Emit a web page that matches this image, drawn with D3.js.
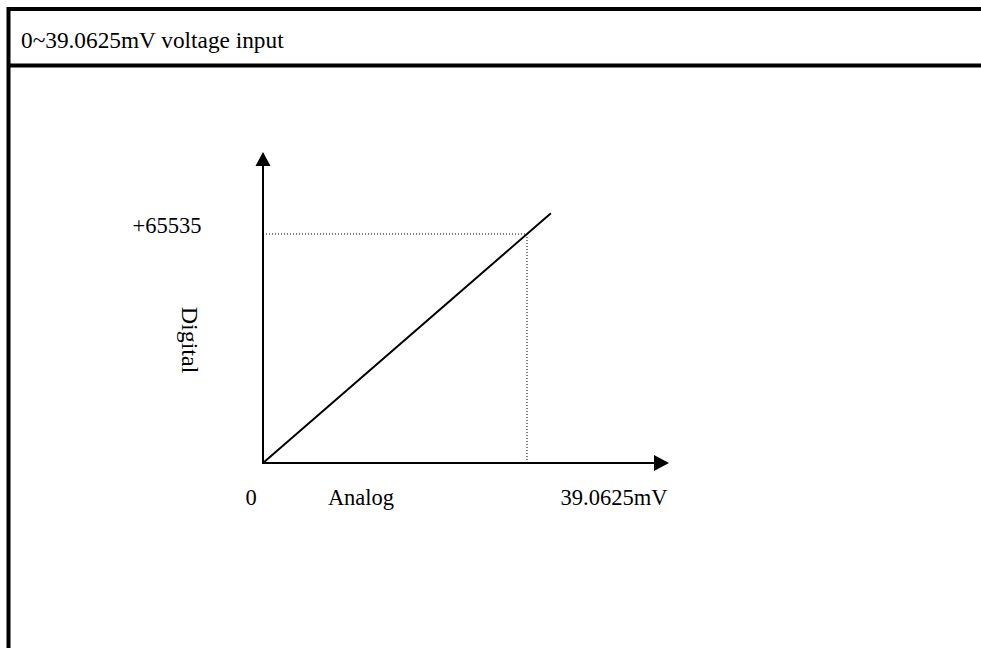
<!DOCTYPE html>
<html>
<head>
<meta charset="utf-8">
<script src="https://cdn.jsdelivr.net/npm/d3@7"></script>
<style>
  html, body { margin: 0; padding: 0; background: #fff; }
  svg { display: block; }
  text { font-family: "Times New Roman", "Liberation Serif", serif; fill: #000; }
</style>
</head>
<body>
<svg id="chart" width="981" height="648"></svg>
<script>
// Transfer characteristic: analog input (mV) -> digital code
const analogDomain = [0, 39.0625];
const digitalDomain = [0, 65535];
const fullScale = { mv: 39.0625, code: 65535 };
const transferLine = [
  { mv: 0, code: 0 },
  { mv: 42.6, code: 71470 }
];
const titleText = "0~39.0625mV voltage input";
const xLabels = ["0", "Analog", "39.0625mV"];
const yLabels = ["+65535"];
const yAxisTitle = "Digital";

const svg = d3.select("#chart");
const W = 981, H = 648;

// Scales
const x = d3.scaleLinear().domain(analogDomain).range([263, 527]);
const y = d3.scaleLinear().domain(digitalDomain).range([463, 234]);

// Table frame
svg.append("line").attr("x1", 7).attr("x2", W + 5).attr("y1", 9).attr("y2", 9)
  .attr("stroke", "#000").attr("stroke-width", 4);
svg.append("line").attr("x1", 8.5).attr("x2", 8.5).attr("y1", 7).attr("y2", H + 5)
  .attr("stroke", "#000").attr("stroke-width", 4);
svg.append("line").attr("x1", 7).attr("x2", W + 5).attr("y1", 65.5).attr("y2", 65.5)
  .attr("stroke", "#000").attr("stroke-width", 4);

svg.append("text").attr("x", 21).attr("y", 48)
  .attr("font-size", 23.3).text(titleText);

// Axes with arrowheads
const x0 = x(0), y0 = y(0);
const xEnd = 669, yEnd = 152;
svg.append("line").attr("x1", x0).attr("y1", y0).attr("x2", xEnd - 12).attr("y2", y0)
  .attr("stroke", "#000").attr("stroke-width", 2);
svg.append("path")
  .attr("d", `M${xEnd},${y0} L${xEnd - 15},${y0 - 8} L${xEnd - 15},${y0 + 8} Z`)
  .attr("fill", "#000");
svg.append("line").attr("x1", x0).attr("y1", y0 + 1).attr("x2", x0).attr("y2", yEnd + 12)
  .attr("stroke", "#000").attr("stroke-width", 2);
svg.append("path")
  .attr("d", `M${x0},${yEnd} L${x0 - 7.5},${yEnd + 14} L${x0 + 7.5},${yEnd + 14} Z`)
  .attr("fill", "#000");

// Full-scale guide lines
svg.append("line")
  .attr("x1", x0).attr("y1", y(fullScale.code))
  .attr("x2", x(fullScale.mv)).attr("y2", y(fullScale.code))
  .attr("stroke", "#000").attr("stroke-width", 1).attr("stroke-dasharray", "1,2");
svg.append("line")
  .attr("x1", x(fullScale.mv)).attr("y1", y(fullScale.code))
  .attr("x2", x(fullScale.mv)).attr("y2", y0)
  .attr("stroke", "#000").attr("stroke-width", 1).attr("stroke-dasharray", "1,2");

// Transfer line
const line = d3.line().x(d => x(d.mv)).y(d => y(d.code));
svg.append("path").datum(transferLine)
  .attr("d", line).attr("fill", "none")
  .attr("stroke", "#000").attr("stroke-width", 2);

// Labels
svg.append("text").attr("x", 167).attr("y", y(fullScale.code) - 1)
  .attr("text-anchor", "middle").attr("font-size", 22.5).text(yLabels[0]);

const xLabelPos = [x(0) - 12, 361, x(fullScale.mv) + 87];
svg.selectAll("text.xl").data(xLabels).enter().append("text")
  .attr("class", "xl")
  .attr("x", (d, i) => xLabelPos[i]).attr("y", 505)
  .attr("text-anchor", "middle").attr("font-size", 22.5)
  .text(d => d);

svg.append("text")
  .attr("transform", "translate(182,340) rotate(90)")
  .attr("text-anchor", "middle").attr("font-size", 24)
  .text(yAxisTitle);
</script>
</body>
</html>
